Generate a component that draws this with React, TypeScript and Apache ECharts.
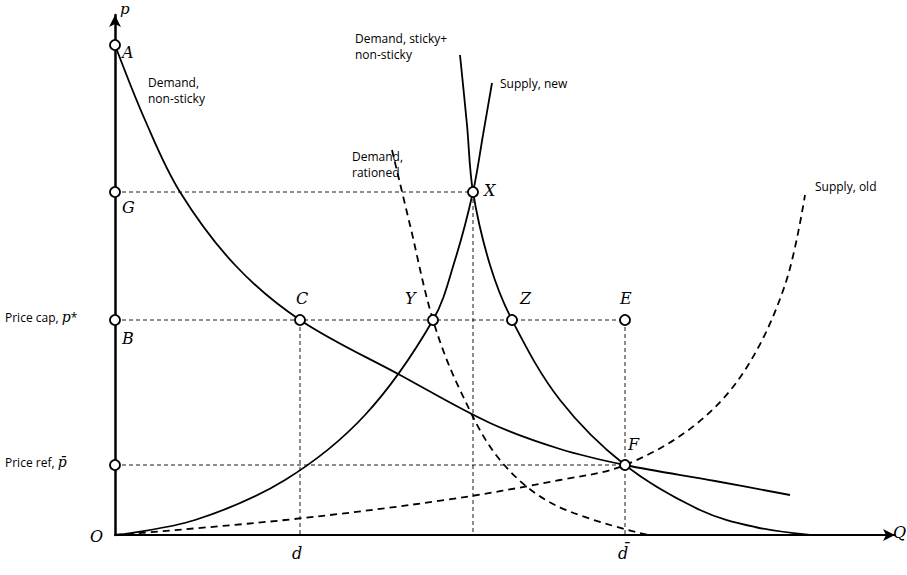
import { useEffect, useRef } from 'react';
import * as echarts from 'echarts';

// data coords: x = px - 115, y = 535 - py
const demandNonSticky = [[0, 490], [30, 415], [65, 343], [120, 270], [185, 215], [285, 160], [375, 112], [445, 86], [510, 70], [600, 54], [675, 40]];
const demandTotal = [[345, 480], [352, 410], [358, 343], [375, 270], [397, 215], [445, 135], [510, 70], [585, 25], [640, 8], [695, 0]];
const supplyNew = [[0, 0], [80, 15], [170, 55], [250, 120], [318, 215], [340, 275], [358, 343], [368, 400], [377, 452]];
const demandRationed = [[277, 385], [295, 310], [318, 215], [345, 145], [385, 75], [440, 30], [533, 0]];
const supplyOld = [[0, 0], [170, 15], [330, 35], [445, 55], [510, 70], [580, 110], [630, 165], [670, 250], [690, 340]];
const points = [[0, 490], [0, 343], [0, 215], [0, 70], [185, 215], [318, 215], [397, 215], [510, 215], [358, 343], [510, 70]];
const guides = [
  [[0, 343], [358, 343]], [[0, 215], [510, 215]], [[0, 70], [510, 70]],
  [[185, 215], [185, 0]], [[358, 343], [358, 0]], [[510, 215], [510, 0]],
];

const it = { fontFamily: 'DejaVu Serif', fontStyle: 'italic', fontSize: 16, fill: '#000' };
const sans = { fontFamily: 'Open Sans', fontSize: 12, fill: '#000', lineHeight: 16 };

export default function App() {
  const ref = useRef<HTMLDivElement>(null);
  useEffect(() => {
    const chart = echarts.init(ref.current!, null, { renderer: 'svg' });
    const line = (data: number[][], dashed = false) => ({
      type: 'line', data, smooth: 0.35, symbol: 'none',
      lineStyle: { color: '#000', width: 1.8, type: dashed ? [7, 5] : 'solid' },
    });
    const guide = (data: number[][]) => ({
      type: 'line', data, symbol: 'none', lineStyle: { color: '#000', width: 0.9, type: [4, 3] },
    });
    const t = (x: number, y: number, text: string, style: any) => ({ type: 'text', left: x, top: y, style: { text, ...style } });
    chart.setOption({
      animation: false,
      grid: { left: 115, right: 12, top: 15, bottom: 40 },
      xAxis: { type: 'value', min: 0, max: 780, splitLine: { show: false }, axisTick: { show: false }, axisLabel: { show: false },
        axisLine: { lineStyle: { color: '#000', width: 2 }, symbol: ['none', 'arrow'], symbolSize: [9, 12] } },
      yAxis: { type: 'value', min: 0, max: 520, splitLine: { show: false }, axisTick: { show: false }, axisLabel: { show: false },
        axisLine: { lineStyle: { color: '#000', width: 2.5 }, symbol: ['none', 'arrow'], symbolSize: [9, 12] } },
      series: [
        ...guides.map(guide),
        line(demandNonSticky), line(demandTotal), line(supplyNew),
        line(demandRationed, true), line(supplyOld, true),
        { type: 'scatter', data: points, symbolSize: 10, z: 10,
          itemStyle: { color: '#fff', borderColor: '#000', borderWidth: 1.8, opacity: 1 } },
      ],
      graphic: [
        t(120, 1, 'p', { ...it, fontSize: 15 }), t(893, 524, 'Q', it), t(90, 528, 'O', it),
        t(122, 44, 'A', it), t(122, 199, 'G', it), t(122, 330, 'B', it),
        t(296, 290, 'C', it), t(405, 290, 'Y', it), t(520, 290, 'Z', it),
        t(620, 290, 'E', it), t(484, 182, 'X', it), t(628, 436, 'F', it),
        t(292, 545, 'd', it), t(618, 545, 'd\u0304', it),
        t(148, 74, 'Demand,\nnon-sticky', sans), t(355, 30, 'Demand, sticky+\nnon-sticky', sans),
        t(500, 75, 'Supply, new', sans), t(352, 148, 'Demand,\nrationed', sans), t(815, 178, 'Supply, old', sans),
        { type: 'text', left: 5, top: 310, style: { text: '{s|Price cap, }{i|p}{s|*}', rich: { s: sans, i: { ...it, fontSize: 14 } } } },
        { type: 'text', left: 5, top: 455, style: { text: '{s|Price ref, }{i|p\u0304}', rich: { s: sans, i: { ...it, fontSize: 14 } } } },
      ],
    });
    return () => chart.dispose();
  }, []);
  return <div ref={ref} style={{ position: 'fixed', left: 0, top: 0, width: 907, height: 575, background: '#fff' }} />;
}
